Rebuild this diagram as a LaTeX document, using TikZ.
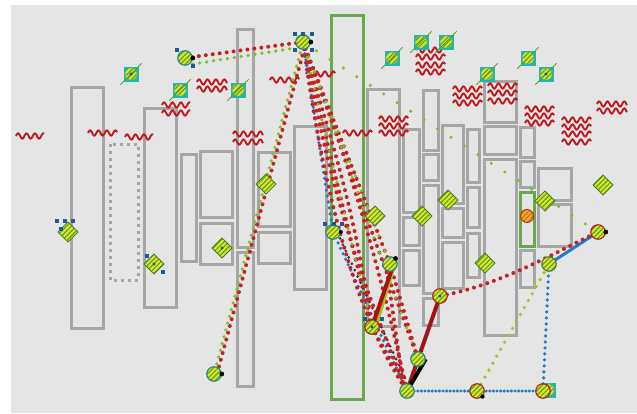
\documentclass[tikz,border=0pt]{standalone}
\usetikzlibrary{patterns.meta}
\definecolor{bgc}{RGB}{229,229,229}
\definecolor{rectc}{RGB}{166,166,166}
\definecolor{grc}{RGB}{106,168,79}
\definecolor{wavc}{RGB}{190,25,30}
\definecolor{rdot}{RGB}{195,35,35}
\definecolor{gdot}{RGB}{130,190,40}
\definecolor{bdot}{RGB}{40,120,200}
\definecolor{ydot}{RGB}{175,190,30}
\definecolor{tealc}{RGB}{40,180,168}
\definecolor{ylw}{RGB}{225,230,40}
\definecolor{stripe}{RGB}{90,160,40}
\definecolor{thickred}{RGB}{165,20,20}
\definecolor{orng}{RGB}{220,110,30}
\pgfdeclarelayer{back}\pgfdeclarelayer{mid}
\pgfsetlayers{back,mid,main}
\newcommand\wavy[3]{\draw[wavest] plot[domain=#1:#2, samples=90, smooth] (\x,{#3-2.6*sin((\x-#1)*360/8.4)});}
\newcommand\hdl[2]{\fill[bdot!75!black] (#1-1.7,#2-1.7) rectangle (#1+1.7,#2+1.7);}
\tikzset{
 box/.style={draw=rectc, line width=3pt},
 gbox/.style={draw=grc, line width=3pt},
 dbox/.style={draw=rectc, line width=3pt, dash pattern=on 3pt off 4pt},
 wavest/.style={draw=wavc, line width=1.9pt},
 hatch/.style={preaction={fill=ylw}, pattern={Lines[angle=45,distance=3.4pt,line width=1.2pt]}, pattern color=stripe},
 mkc/.style={circle, minimum size=14.5pt, inner sep=0pt, hatch, draw=tealc!75!black, line width=1.1pt},
 mkcr/.style={mkc, draw=rdot!85!black},
 mksq/.style={rectangle, minimum size=15pt, inner sep=0pt, fill=tealc, path picture={\path[hatch] (path picture bounding box.center) circle (5.8pt);}},
 mkdm/.style={rectangle, rotate=45, minimum size=14pt, inner sep=0pt, hatch, draw=stripe!80!black, line width=0.9pt},
 rdots/.style={draw=rdot, line width=4pt, line cap=round, dash pattern=on 0pt off 7pt},
 gdots/.style={draw=gdot, line width=3.6pt, line cap=round, dash pattern=on 0pt off 7pt},
 gsparse/.style={draw=gdot, line width=3.4pt, line cap=round, dash pattern=on 0pt off 16pt},
 bdots/.style={draw=bdot, line width=3.6pt, line cap=round, dash pattern=on 0pt off 6pt},
 bdense/.style={draw=bdot, line width=3.4pt, line cap=round, dash pattern=on 0pt off 3.6pt},
 ydots/.style={draw=ydot, line width=3.6pt, line cap=round, dash pattern=on 0pt off 8pt},
 kdots/.style={draw=black!80, line width=3pt, line cap=round, dash pattern=on 0pt off 7pt},
 redline/.style={draw=thickred, line width=4pt},
 blkline/.style={draw=black, line width=4pt},
 blueline/.style={draw=bdot, line width=3pt},
 ygline/.style={draw=ydot, line width=3pt},
 xline/.style={draw=stripe, line width=1pt},
}
\begin{document}
\begin{tikzpicture}[x=1pt,y=-1pt]
\useasboundingbox (0,0) rectangle (637,413);
\begin{pgfonlayer}{back}
\fill[white] (0,0) rectangle (637,413);
\fill[bgc] (11,5) rectangle (637,413);
% grey boxes
\draw[box] (71,87) rectangle (103,328);
\draw[dbox] (110,144) rectangle (138,280);
\draw[box] (144,108) rectangle (176,307);
\draw[box] (181,154) rectangle (196,261);
\draw[box] (200,151) rectangle (232,217);
\draw[box] (200,223) rectangle (232,264);
\draw[box] (237,29) rectangle (253,247);
\draw[box] (237,252) rectangle (253,386);
\draw[box] (258,152) rectangle (290,226);
\draw[box] (258,232) rectangle (290,263);
\draw[box] (294,126) rectangle (326,289);
\draw[gbox] (331,15) rectangle (363,399);
\draw[box] (367,89) rectangle (399,326);
\draw[box] (403,129) rectangle (419,212);
\draw[box] (403,217) rectangle (419,245);
\draw[box] (403,250) rectangle (419,285);
\draw[box] (423,90) rectangle (438,150);
\draw[box] (423,154) rectangle (438,180);
\draw[box] (423,185) rectangle (438,293);
\draw[box] (423,298) rectangle (438,325);
\draw[box] (442,125) rectangle (463,203);
\draw[box] (442,208) rectangle (463,237);
\draw[box] (442,242) rectangle (463,288);
\draw[box] (467,129) rectangle (479,182);
\draw[box] (467,187) rectangle (479,227);
\draw[box] (467,233) rectangle (479,277);
\draw[box] (484,81) rectangle (516,122);
\draw[box] (484,126) rectangle (516,154);
\draw[box] (484,159) rectangle (516,335);
\draw[box] (520,127) rectangle (534,157);
\draw[box] (520,161) rectangle (534,187);
\draw[gbox] (520,192) rectangle (534,246);
\draw[box] (520,250) rectangle (534,287);
\draw[box] (538,168) rectangle (571,200);
\draw[box] (538,204) rectangle (571,246);
% red waves
\wavy{16}{44}{136}
\wavy{88}{117}{133}
\wavy{125}{153}{137}
\wavy{162}{190}{105}\wavy{162}{190}{113}
\wavy{197}{227}{82}\wavy{197}{227}{89}
\wavy{233}{263}{134}\wavy{233}{263}{142}
\wavy{270}{299}{80}\wavy{306}{335}{74}
\wavy{343}{372}{133}
\wavy{379}{408}{119}\wavy{379}{408}{126}\wavy{379}{408}{133}
\wavy{416}{445}{50}\wavy{416}{445}{57}\wavy{416}{445}{65}\wavy{416}{445}{72}
\wavy{453}{482}{89}\wavy{453}{482}{96}\wavy{453}{482}{103}
\wavy{488}{517}{86}\wavy{488}{517}{93}\wavy{488}{517}{101}
\wavy{525}{554}{109}\wavy{525}{554}{116}\wavy{525}{554}{123}
\wavy{562}{591}{120}\wavy{562}{591}{127}\wavy{562}{591}{134}\wavy{562}{591}{142}
\wavy{597}{627}{104}\wavy{597}{627}{111}
\end{pgfonlayer}
% teal square markers
\node[mksq] (t1) at (131,74) {};
\node[mksq] (t2) at (180,90) {};
\node[mksq] (t3) at (238,90) {};
\node[mksq] (t4) at (392,58) {};
\node[mksq] (t5) at (421,42) {};
\node[mksq] (t6) at (446,42) {};
\node[mksq] (t7) at (487,74) {};
\node[mksq] (t8) at (528,58) {};
\node[mksq] (t9) at (546,74) {};
\node[mksq] (t10) at (548,390) {};
\foreach \n in {t1,t2,t3,t4,t5,t6,t7,t8,t9}
  \draw[xline] ([shift={(-3pt,-3pt)}]\n.south west) -- ([shift={(3pt,3pt)}]\n.north east);
% diamonds
\node[mkdm] (d1) at (68,232) {};
\node[mkdm] (d2) at (154,264) {};
\node[mkdm] (d3) at (222,248) {};
\node[mkdm] (d4) at (266,184) {};
\node[mkdm] (d5) at (375,216) {};
\node[mkdm] (d6) at (422,216) {};
\node[mkdm] (d7) at (448,200) {};
\node[mkdm] (d8) at (485,263) {};
\node[mkdm] (d9) at (545,201) {};
\node[mkdm] (d10) at (603,185) {};
% circles
\node[mkc] (c1) at (185,58) {};
\node[mkc] (c2) at (303,42) {};
\node[mkc] (c3) at (214,374) {};
\node[mkc] (c4) at (333,232) {};
\node[mkc] (c5) at (390,264) {};
\node[mkcr] (c6) at (372,327) {};
\node[mkc] (c7) at (418,359) {};
\node[mkc] (c8) at (407,391) {};
\node[mkcr] (c9) at (440,296) {};
\node[mkcr] (c10) at (477,391) {};
\node[mkcr] (c11) at (543,391) {};
\node[mkc, draw=grc!70!black] (c12) at (549,264) {};
\node[mkcr] (c13) at (598,232) {};
\node[circle, minimum size=13pt, inner sep=0pt, preaction={fill=ylw!60!orng}, pattern={Lines[angle=45,distance=3.4pt,line width=1.2pt]}, pattern color=orng, draw=rdot, line width=0.9pt] (c14) at (527,216) {};
% direction marks
\foreach \n in {c1,c2,c3,c13} \fill[black] (\n.east) circle (2.4pt);
\fill[black] (c5.north east) circle (2.4pt);
\fill[black] (c10.south east) circle (2.2pt);
\fill[black] (c4.east) circle (2pt);
% small blue handles and centre dots
\hdl{177}{50}\hdl{193}{66}
\hdl{295}{34}\hdl{303}{34}\hdl{312}{34}\hdl{295}{50}\hdl{312}{50}
\hdl{57}{221}\hdl{65}{221}\hdl{73}{221}\hdl{61}{229}
\hdl{147}{256}\hdl{163}{272}
\hdl{325}{224}\hdl{334}{224}\hdl{342}{224}
\hdl{365}{319}\hdl{382}{319}
\foreach \n in {t1,t9,d2,d3,c9,c6} \fill[bdot!70!black] (\n.center) circle (1.6pt);
% connectors
\begin{pgfonlayer}{mid}
\draw[rdots] (c1.center) -- (c2.center);
\draw[gdots] ([yshift=-6pt]c1.east) -- ([yshift=-6pt]c2.west);
\draw[rdots] ([xshift=3pt]c2.center) -- ([xshift=3pt]c3.center);
\draw[gdots] ([xshift=-1pt,yshift=-4pt]c2.center) -- ([xshift=-1pt,yshift=-4pt]c3.center);
\draw[gsparse] (c2.center) -- (c13.center);
\draw[bdots] (c2.center) -- (c4.center);
\draw[bdots] (c4.center) -- (c8.center);
\draw[kdots] ([xshift=4pt]c4.center) -- ([xshift=4pt]c8.center);
\draw[rdots] (c2.center) -- (c6.center);
\draw[rdots] (c2.center) -- (c5.center);
\draw[rdots] (c2.center) to[bend right=6] (c8.center);
\draw[rdots] (c2.center) to[bend left=4] (c8.center);
\draw[rdots] (c2.center) .. controls (318,150) and (345,300) .. (c8.center);
\draw[rdots] (c2.center) .. controls (320,110) and (350,180) .. (c6.center);
\draw[rdots] (c2.center) -- (c7.center);
\draw[gsparse] (c2.center) -- (c6.center);
\draw[gsparse] (c2.center) -- (c7.center);
\draw[gsparse] (c2.center) -- (c5.center);
\draw[rdots] (c6.center) -- (c8.center);
\draw[rdots] (c5.center) -- (c7.center);
\draw[rdots] ([xshift=-4pt]c5.center) -- ([xshift=-3pt]c8.center);
\draw[ygline] ([xshift=4pt]c6.center) -- ([xshift=5pt]c5.center);
\draw[redline] (c6.center) -- (c5.north east);
\draw[redline] (c8.center) -- (c9.center);
\draw[blkline] (c7.east) -- (c8.center);
\draw[bdense] (c8.center) -- (c10.center) -- (c11.center);
\draw[ydots] (c10.center) -- (c12.center);
\draw[bdots] (c12.center) -- (c11.center);
\draw[blueline] (c12.center) -- (c13.center);
\draw[rdots] (c9.center) .. controls (500,285) and (550,255) .. (c13.center);
\end{pgfonlayer}
\end{tikzpicture}
\end{document}
